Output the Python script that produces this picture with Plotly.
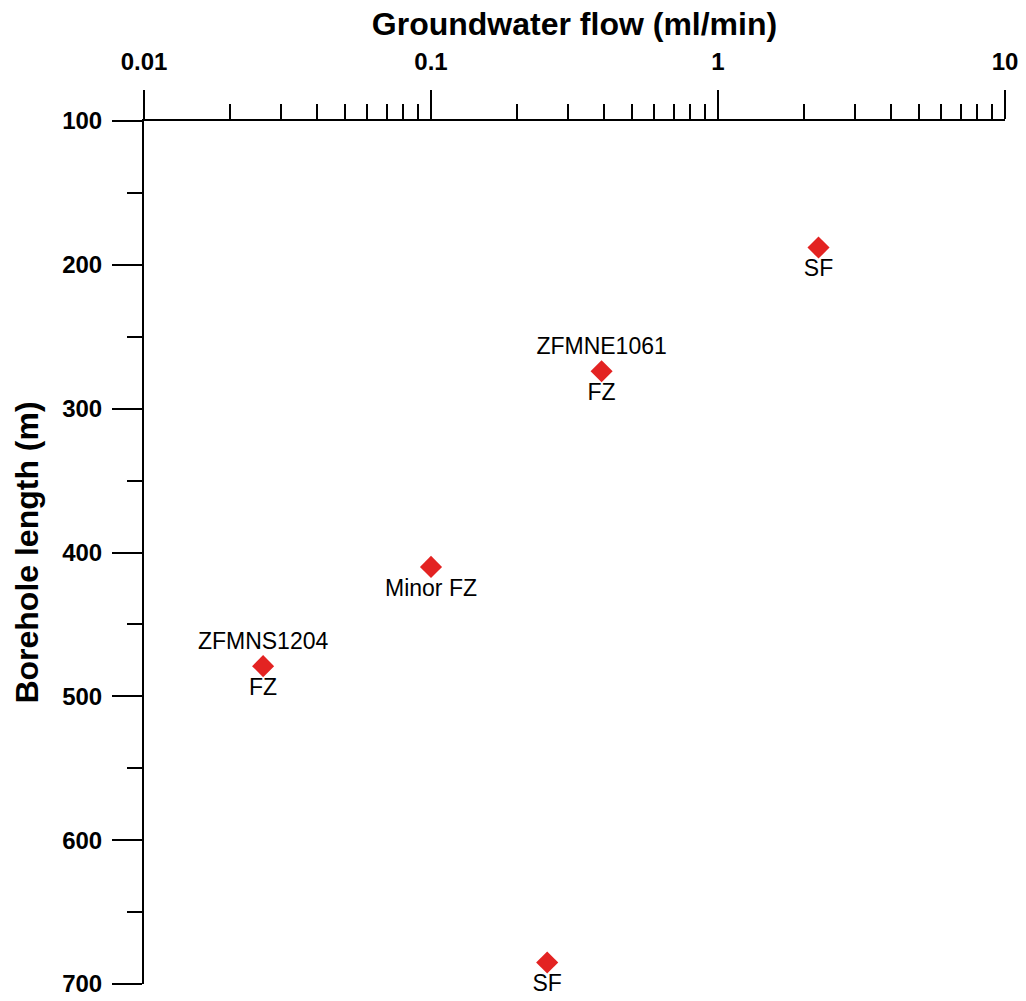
import plotly.graph_objects as go

# Groundwater flow measurements along the borehole
flow_ml_min = [2.24, 0.393, 0.1, 0.026, 0.254]
borehole_length_m = [188, 274, 410, 479, 685]
label_below = ["SF", "FZ", "Minor FZ", "FZ", "SF"]
label_above = ["", "ZFMNE1061", "", "ZFMNS1204", ""]

x_major = [0.01, 0.1, 1, 10]
x_major_text = ["0.01", "0.1", "1", "10"]
x_minor = [m * d for d in (0.01, 0.1, 1) for m in range(2, 10)]
y_major = [100, 200, 300, 400, 500, 600, 700]

FONT = "Arial, Liberation Sans, sans-serif"
RED = "#e32322"

fig = go.Figure()

fig.add_trace(go.Scatter(
    x=flow_ml_min, y=borehole_length_m,
    mode="markers+text",
    marker=dict(symbol="diamond", size=17, color=RED, line=dict(width=0)),
    text=label_below, textposition="bottom center",
    textfont=dict(family=FONT, size=23, color="black"),
    cliponaxis=False, showlegend=False, hoverinfo="skip",
))
fig.add_trace(go.Scatter(
    x=flow_ml_min, y=borehole_length_m,
    mode="markers+text",
    marker=dict(symbol="diamond", size=17, color="rgba(0,0,0,0)"),
    text=label_above, textposition="top center",
    textfont=dict(family=FONT, size=23, color="black"),
    cliponaxis=False, showlegend=False, hoverinfo="skip",
))

fig.update_layout(
    width=1026, height=1001,
    margin=dict(l=144, r=21, t=121, b=17),
    plot_bgcolor="white", paper_bgcolor="white",
    font=dict(family=FONT, color="black"),
    xaxis=dict(
        type="log", side="top", range=[-2, 1], automargin=False,
        tickmode="array", tickvals=x_major, ticktext=x_major_text,
        ticks="outside", ticklen=29, tickwidth=2, tickcolor="black",
        minor=dict(tickmode="array", tickvals=x_minor, ticks="outside",
                   ticklen=15, tickwidth=2, tickcolor="black", showgrid=False),
        showline=True, linewidth=2, linecolor="black",
        showgrid=False, zeroline=False,
        tickfont=dict(family=FONT, size=24, weight="bold"),
        ticklabelstandoff=10,
        title=dict(text="Groundwater flow (ml/min)",
                   font=dict(family=FONT, size=32, weight="bold"), standoff=3),
    ),
    yaxis=dict(
        range=[700, 100], automargin=False,
        tickmode="array", tickvals=y_major,
        ticks="outside", ticklen=30, tickwidth=2, tickcolor="black",
        minor=dict(dtick=50, ticks="outside", ticklen=15, tickwidth=2,
                   tickcolor="black", showgrid=False),
        showline=True, linewidth=2, linecolor="black",
        showgrid=False, zeroline=False,
        tickfont=dict(family=FONT, size=24, weight="bold"),
        ticklabelstandoff=5,
        title=dict(text="Borehole length (m)",
                   font=dict(family=FONT, size=32, weight="bold"), standoff=14),
    ),
)

fig.write_html("out.html")
